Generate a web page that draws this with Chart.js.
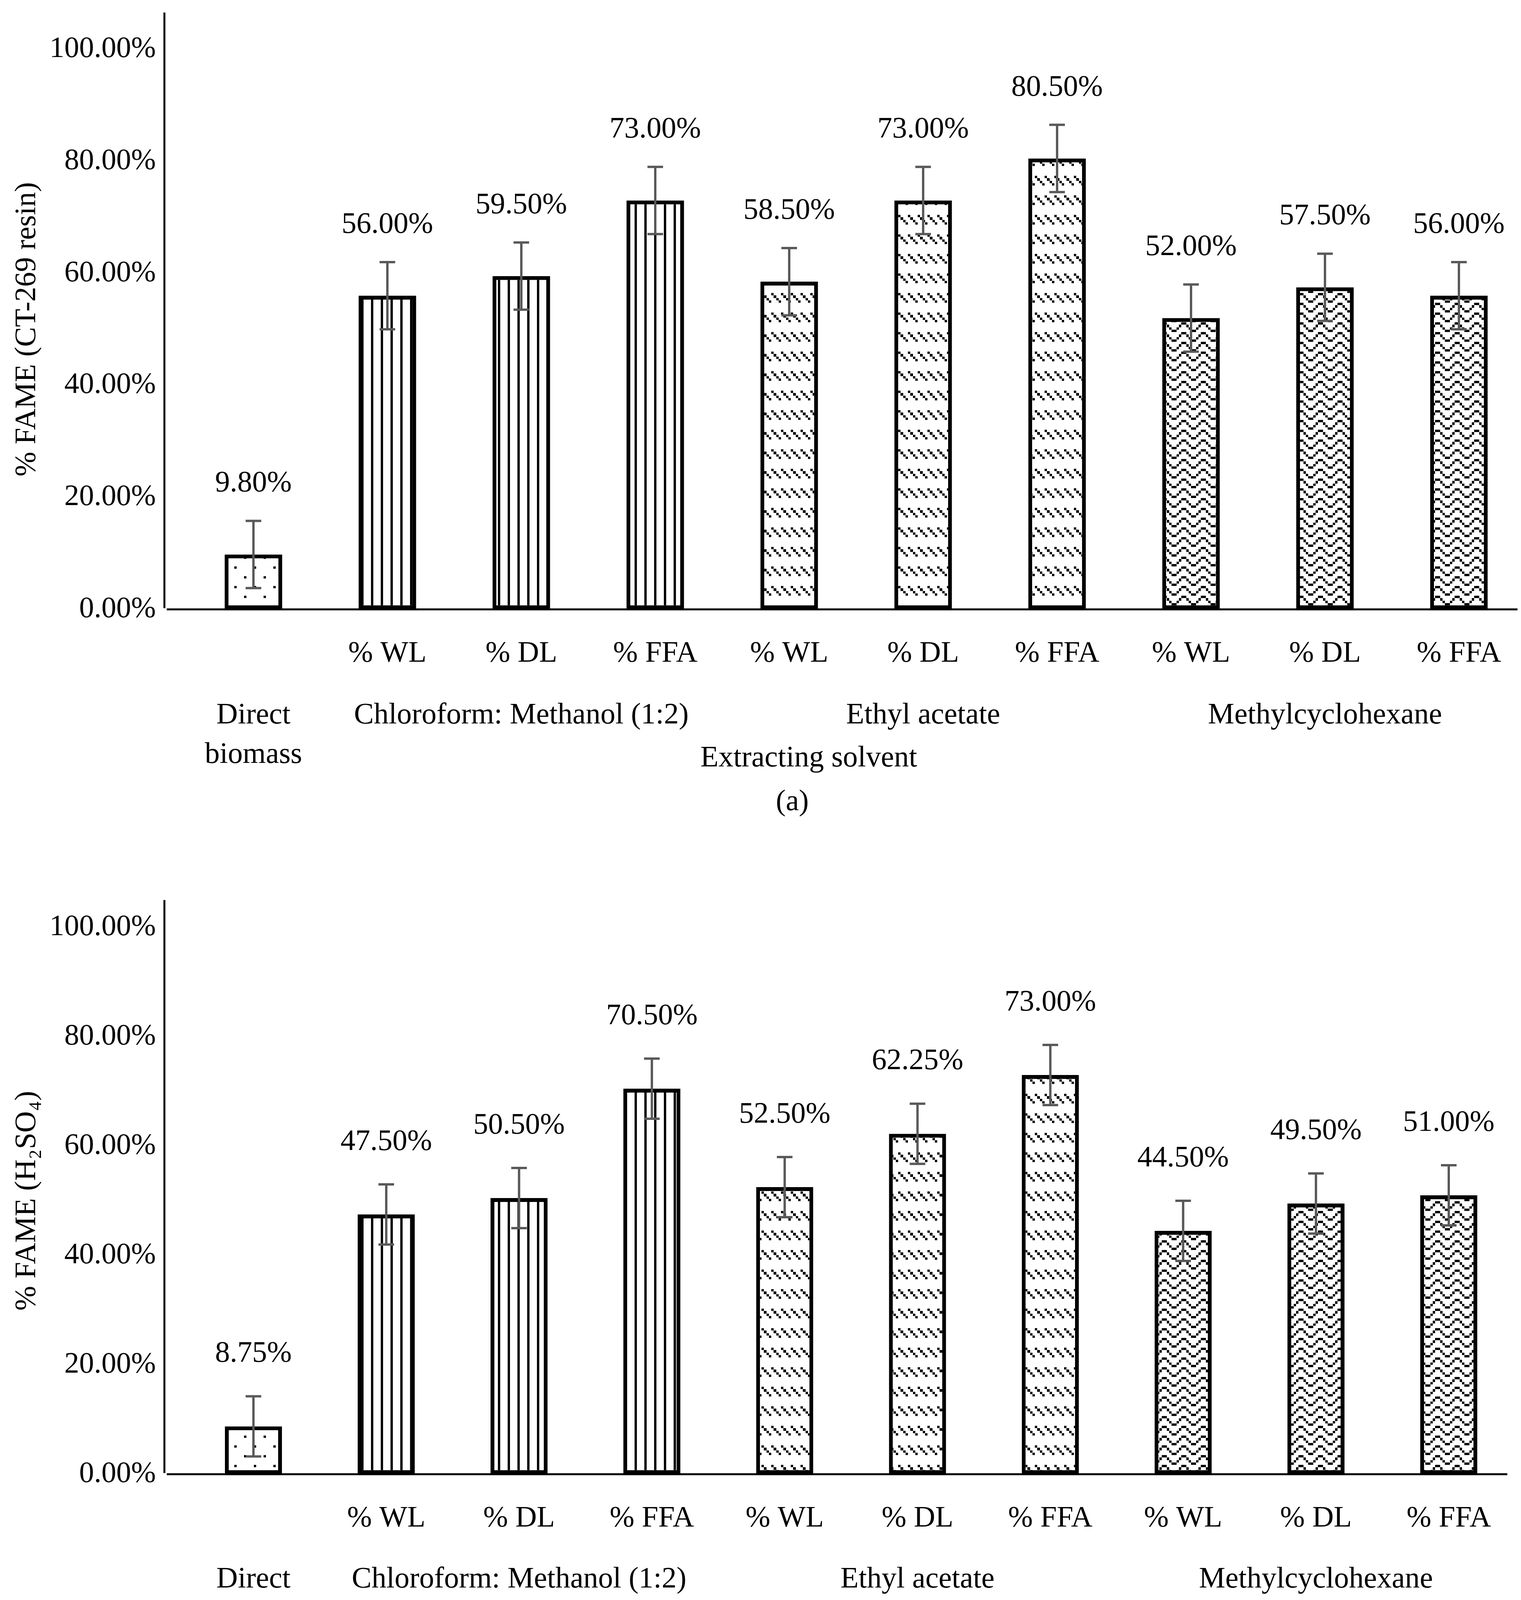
<!DOCTYPE html>
<html>
<head>
<meta charset="utf-8">
<script src="https://cdn.jsdelivr.net/npm/chart.js@4.4.0/dist/chart.umd.min.js"></script>
<style>
  body { margin: 0; background: #fff; }
  canvas { display: block; }
</style>
</head>
<body>
<canvas id="chartA" width="3895" height="2200"></canvas>
<canvas id="chartB" width="3895" height="2208"></canvas>
<script>
// data
const categories = ["", "% WL", "% DL", "% FFA", "% WL", "% DL", "% FFA", "% WL", "% DL", "% FFA"];
const groupNames = [["Direct", "biomass"], ["Chloroform: Methanol (1:2)"], ["Ethyl acetate"], ["Methylcyclohexane"]];
const groupSizes = [1, 3, 3, 3];
const resinValues = [9.8, 56, 59.5, 73, 58.5, 73, 80.5, 52, 57.5, 56];
const resinErrors = [6, 6, 6, 6, 6, 6, 6, 6, 6, 6];
const acidValues = [8.75, 47.5, 50.5, 70.5, 52.5, 62.25, 73, 44.5, 49.5, 51];
const acidErrors = [5.5, 5.5, 5.5, 5.5, 5.5, 5.5, 5.5, 5.5, 5.5, 5.5];
const yTicks = [0, 20, 40, 60, 80, 100];

Chart.defaults.font.family = '"Liberation Serif", "Times New Roman", serif';
Chart.defaults.font.size = 76;
Chart.defaults.color = "#000";

// 8x8 excel-like fill patterns
const bitmaps = {
  dots: ["10000000", "00000000", "00000000", "00000000", "00001000", "00000000", "00000000", "00000000"],
  vertical: ["10001000", "10001000", "10001000", "10001000", "10001000", "10001000", "10001000", "10001000"],
  dashDiag: ["10001000", "01000100", "00100010", "00010001", "00000000", "00000000", "00000000", "00000000"],
  wave: ["00001100", "00010010", "00100001", "11000000", "00001100", "00010010", "00100001", "11000000"]
};
const groupFill = ["dots", "vertical", "dashDiag", "wave"];

function makePattern(rows) {
  const cell = 6.25;
  const tile = document.createElement("canvas");
  tile.width = 50; tile.height = 50;
  const t = tile.getContext("2d");
  t.fillStyle = "#fff";
  t.fillRect(0, 0, 50, 50);
  t.fillStyle = "#000";
  rows.forEach((row, r) => {
    for (let c = 0; c < 8; c++) {
      if (row[c] === "1") {
        const x0 = Math.round(c * cell), y0 = Math.round(r * cell);
        t.fillRect(x0, y0, Math.round((c + 1) * cell) - x0, Math.round((r + 1) * cell) - y0);
      }
    }
  });
  return t.createPattern(tile, "repeat");
}

const fills = [];
groupSizes.forEach((n, g) => {
  const p = makePattern(bitmaps[groupFill[g]]);
  for (let k = 0; k < n; k++) fills.push(p);
});

const decorations = {
  id: "decorations",
  beforeDatasetsDraw(chart, args, opts) {
    const ctx = chart.ctx, area = chart.chartArea;
    ctx.save();
    ctx.strokeStyle = "#000";
    ctx.lineWidth = 5;
    ctx.beginPath();
    ctx.moveTo(opts.axisX, opts.axisTop);
    ctx.lineTo(opts.axisX, area.bottom - 3);
    ctx.moveTo(opts.axisX + 6, area.bottom);
    ctx.lineTo(area.right + opts.baseExtra, area.bottom);
    ctx.stroke();
    ctx.restore();
  },
  afterDatasetsDraw(chart, args, opts) {
    const ctx = chart.ctx, xs = chart.scales.x, ys = chart.scales.y;
    const values = chart.data.datasets[0].data;
    ctx.save();
    // error bars
    ctx.strokeStyle = "#595959";
    ctx.lineWidth = 6;
    values.forEach((v, i) => {
      const cx = xs.getPixelForValue(i);
      const top = ys.getPixelForValue(v + opts.errors[i]);
      const bot = ys.getPixelForValue(v - opts.errors[i]);
      ctx.beginPath();
      ctx.moveTo(cx, top); ctx.lineTo(cx, bot);
      ctx.moveTo(cx - 20, top); ctx.lineTo(cx + 20, top);
      ctx.moveTo(cx - 20, bot); ctx.lineTo(cx + 20, bot);
      ctx.stroke();
    });
    // value labels
    ctx.fillStyle = "#000";
    ctx.font = '76px "Liberation Serif", serif';
    ctx.textAlign = "center";
    ctx.textBaseline = "middle";
    values.forEach((v, i) => {
      const cx = xs.getPixelForValue(i);
      const top = ys.getPixelForValue(v + opts.errors[i]);
      ctx.fillText(v.toFixed(2) + "%", cx, top - opts.labelGap);
    });
    // solvent group labels
    let start = 0;
    groupSizes.forEach((n, g) => {
      const cx = (xs.getPixelForValue(start) + xs.getPixelForValue(start + n - 1)) / 2;
      groupNames[g].forEach((line, k) => ctx.fillText(line, cx, opts.groupY + k * opts.lineGap));
      start += n;
    });
    ctx.fillText("Extracting solvent", opts.titleX, opts.titleY);
    ctx.fillText(opts.panel, opts.panelX, opts.panelY);
    ctx.restore();
  }
};

// invisible tick marks push the labels away without adding scale padding
const hiddenTicks = len => ({ display: true, drawOnChartArea: false, drawTicks: true, tickLength: len, color: "rgba(0,0,0,0)" });

function makeChart(id, values, errors, yTitle, cfg) {
  return new Chart(document.getElementById(id), {
    type: "bar",
    data: {
      labels: categories,
      datasets: [{
        data: values,
        backgroundColor: fills,
        borderColor: "#000",
        borderWidth: 10,
        borderSkipped: false,
        barPercentage: 0.43,
        categoryPercentage: 1,
        clip: false
      }]
    },
    plugins: [decorations],
    options: {
      responsive: false,
      devicePixelRatio: 1,
      animation: false,
      layout: { padding: { top: cfg.top, right: cfg.right, left: 0, bottom: 0 } },
      plugins: {
        legend: { display: false },
        tooltip: { enabled: false },
        decorations: Object.assign({ errors: errors }, cfg.deco)
      },
      scales: {
        x: {
          offset: false,
          grid: hiddenTicks(68),
          border: { display: false },
          ticks: { autoSkip: false, maxRotation: 0, padding: 0 },
          afterFit: s => { s.height = cfg.xHeight; }
        },
        y: {
          min: 0,
          max: 100,
          grid: hiddenTicks(250),
          border: { display: false },
          afterBuildTicks: s => { s.ticks = yTicks.map(v => ({ value: v })); },
          ticks: { padding: 0, callback: v => v.toFixed(2) + "%" },
          title: { display: true, text: yTitle, padding: { top: 24, bottom: 0 } },
          afterFit: s => { s.width = 649; }
        }
      }
    }
  });
}

makeChart("chartA", resinValues, resinErrors, "% FAME (CT-269 resin)", {
  top: 126, right: 159, xHeight: 640,
  deco: {
    axisX: 421, axisTop: 32, baseExtra: 150, labelGap: 95,
    groupY: 1832, lineGap: 101,
    titleX: 2071, titleY: 1942,
    panel: "(a)", panelX: 2029, panelY: 2054
  }
});

makeChart("chartB", acidValues, acidErrors, "% FAME (H\u2082SO\u2084)", {
  top: 174, right: 185, xHeight: 634,
  deco: {
    axisX: 421, axisTop: 104, baseExtra: 150, labelGap: 108,
    groupY: 1844, lineGap: 101,
    titleX: 2040, titleY: 2007,
    panel: "(b)", panelX: 2029, panelY: 2141
  }
});
</script>
</body>
</html>
